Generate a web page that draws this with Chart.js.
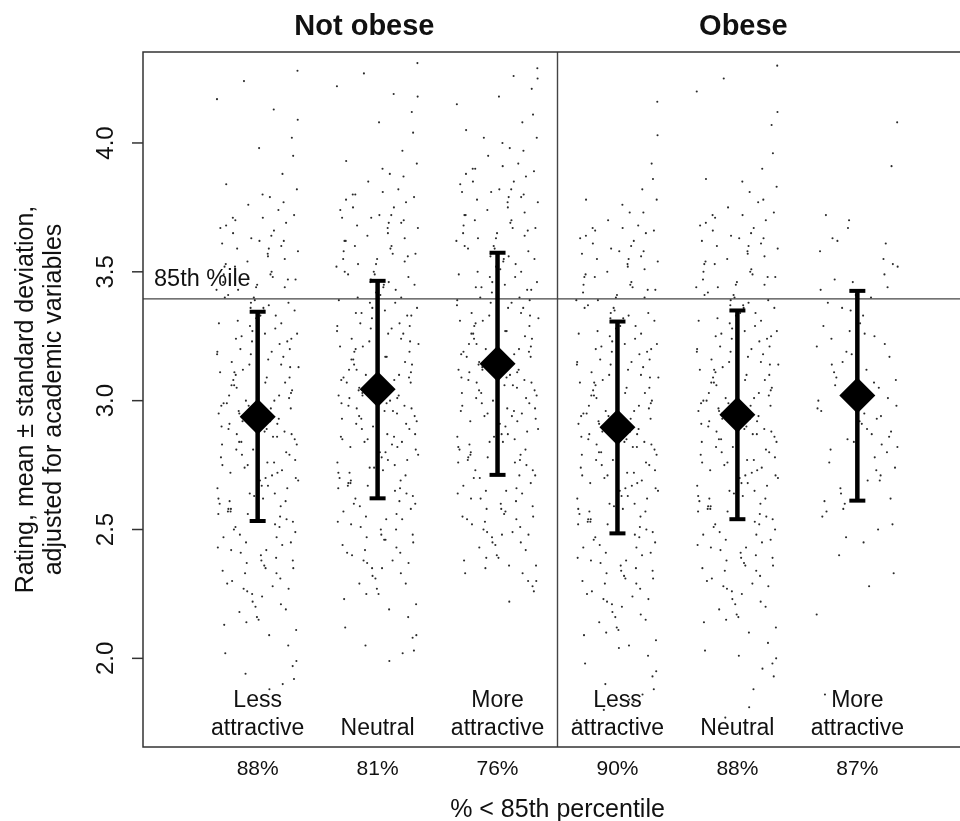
<!DOCTYPE html>
<html>
<head>
<meta charset="utf-8">
<script src="https://cdn.jsdelivr.net/npm/chart.js@4/dist/chart.umd.min.js"></script>
<style>
  html, body { margin: 0; padding: 0; background: #fff; overflow: hidden; }
  canvas { display: block; }
</style>
</head>
<body>
<canvas id="grafico" width="990" height="821"></canvas>
<script>
// Grupos: 3 por panel (No obeso / Obeso)
const grupos = ['Less attractive', 'Neutral', 'More attractive', 'Less attractive', 'Neutral', 'More attractive'];
const etiquetasGrupo = [['Less', 'attractive'], ['', 'Neutral'], ['More', 'attractive'],
                        ['Less', 'attractive'], ['', 'Neutral'], ['More', 'attractive']];
const porcentajes = ['88%', '81%', '76%', '90%', '88%', '87%'];
const paneles = ['Not obese', 'Obese'];

// media y ± desviación estándar
const medias = [2.938, 3.044, 3.143, 2.897, 2.945, 3.020];
const limInf = [2.533, 2.621, 2.712, 2.485, 2.540, 2.612];
const limSup = [3.345, 3.465, 3.574, 3.307, 3.350, 3.426];

const percentil85 = 3.395;
const ticksY = [2.0, 2.5, 3.0, 3.5, 4.0];

// desplazamiento horizontal de los puntos (jitter) compartido por los grupos
const jitter = [
  -0.123, 0.277, -0.311, 0.058, 0.194, -0.246, 0.332, -0.029, -0.175, 0.110,
  0.226, -0.292, 0.081, -0.064, 0.303, -0.207, 0.145, -0.338, 0.019, 0.252,
  -0.094, 0.179, -0.262, 0.326, -0.141, 0.048, -0.223, 0.285, -0.047, 0.120,
  -0.325, 0.218, -0.117, 0.076, 0.314, -0.189, 0.162, -0.270, 0.023, 0.247,
  -0.078, 0.293, -0.216, 0.104, -0.339, 0.187, -0.013, 0.265, -0.152, 0.061,
  0.336, -0.234, 0.139, -0.105, 0.237, -0.301, 0.098, -0.056, 0.203, -0.194,
  0.158, -0.283, 0.037, 0.296, -0.136, 0.268, -0.082, 0.114, -0.257, 0.321,
  -0.166, 0.004, 0.229, -0.332, 0.173, -0.038, 0.281, -0.213, 0.086, -0.127,
  0.255, -0.274, 0.143, -0.069, 0.334, -0.185, 0.052, -0.306, 0.197, -0.091,
  0.278, -0.243, 0.126, -0.018, 0.214, -0.317, 0.102, -0.158, 0.292, -0.044,
  0.165, -0.266, 0.072, -0.203, 0.309, -0.114, 0.241, -0.343, 0.034, 0.183,
  -0.087, 0.136, -0.235, 0.341, -0.148, 0.093, -0.294, 0.207, -0.006, 0.262,
  -0.171, 0.045, -0.323, 0.154, -0.075, 0.304, -0.226, 0.117, -0.101, 0.238,
  -0.287, 0.066, -0.196, 0.318, -0.053, 0.176, -0.254, 0.012, 0.283, -0.134,
  0.205, -0.057, 0.313, -0.276, 0.096, -0.153, 0.257, -0.327, 0.043, 0.189,
  -0.218, 0.128, -0.004, 0.294, -0.181, 0.066, -0.296, 0.235, -0.098, 0.151,
  -0.244, 0.327, -0.126, 0.027, 0.196, -0.335, 0.107, -0.046, 0.266, -0.178,
  0.084, -0.285, 0.147, -0.109, 0.323, -0.032, 0.224, -0.205, 0.055, -0.313,
  0.192, -0.144, 0.276, -0.085, 0.125, -0.238, 0.338, -0.163, 0.008, 0.216,
  -0.297, 0.088, -0.198, 0.308, -0.066, 0.164, -0.263, 0.031, 0.247, -0.131,
  0.134, -0.328, 0.064, -0.174, 0.316, -0.042, 0.197, -0.227, 0.093, -0.097,
  0.271, -0.303, 0.157, -0.024, 0.233, -0.186, 0.075, -0.279, 0.329, -0.083,
  0.116, -0.221, 0.287, -0.154, 0.015, 0.182, -0.336, 0.086, -0.059, 0.258,
  -0.119, 0.226, -0.248, 0.041, 0.297, -0.183, 0.137, -0.012, 0.209, -0.284
];

// valores individuales (nube de puntos) por grupo
const puntosG1 = [
  3.12, 2.45, 3.67, 2.88, 2.21, 3.41, 4.28, 2.63, 3.05, 2.97,
  3.55, 2.34, 2.76, 3.29, 1.92, 3.71, 2.52, 3.18, 2.69, 3.47,
  2.14, 3.02, 3.84, 2.83, 2.41, 3.36, 2.58, 4.02, 3.23, 2.71,
  2.95, 3.62, 2.27, 3.09, 2.49, 3.52, 2.86, 2.02, 3.33, 2.66,
  3.76, 2.38, 3.15, 2.92, 4.17, 2.55, 3.44, 2.79, 2.18, 3.26,
  3.58, 2.61, 3.00, 2.33, 3.69, 2.90, 1.88, 3.38, 2.73, 3.11,
  2.47, 3.49, 2.24, 3.95, 2.84, 3.20, 2.56, 3.64, 2.99, 2.11,
  3.31, 2.68, 3.07, 2.43, 3.74, 2.81, 3.24, 2.30, 3.56, 2.94,
  2.05, 3.40, 2.64, 3.14, 4.09, 2.51, 3.35, 2.78, 3.60, 2.37,
  3.03, 2.89, 3.48, 2.20, 3.17, 2.60, 3.79, 2.96, 1.97, 3.27,
  2.72, 3.53, 2.42, 3.08, 2.85, 4.24, 2.54, 3.43, 2.67, 3.22,
  2.26, 3.66, 2.91, 3.13, 2.48, 3.37, 2.75, 3.88, 2.16, 3.01,
  3.59, 2.62, 3.30, 2.39, 2.98, 3.72, 2.57, 3.19, 1.94, 2.80,
  3.46, 2.35, 3.06, 2.70, 3.63, 2.93, 2.29, 3.98, 2.87, 3.25,
  2.44, 3.18, 2.77, 3.52, 2.09, 2.95, 3.38, 2.62, 3.71, 2.31,
  3.06, 2.86, 3.45, 2.53, 3.24, 2.70, 3.61, 2.19, 3.00, 3.33,
  2.58, 3.82, 2.92, 2.40, 3.14, 2.66, 3.49, 2.25, 3.09, 2.81,
  3.57, 2.47, 3.28, 2.74, 1.99, 3.40, 2.88, 3.65, 2.36, 3.11,
  2.59, 3.20, 2.97, 3.54, 2.28, 3.02, 2.69, 3.43, 2.15, 3.77,
  2.83, 3.16, 2.50, 3.35, 2.64, 2.91, 3.68, 2.38, 3.23, 2.79,
  4.13, 2.56, 3.07, 2.87, 3.47, 2.22, 3.30, 2.72, 3.59, 2.45,
  3.13, 2.98, 2.33, 3.39, 2.61, 3.70, 2.89, 2.13, 3.26, 2.75,
  3.50, 2.42, 3.04, 2.84, 3.62, 2.51, 3.19, 2.67, 3.36, 2.27,
  2.94, 3.44, 2.57, 3.80, 2.35, 3.10, 2.76, 3.32, 1.90, 2.99
];
const puntosG2 = [
  3.21, 2.58, 3.74, 2.96, 2.33, 3.49, 4.31, 2.74, 3.12, 3.05,
  3.63, 2.44, 2.87, 3.38, 2.03, 3.80, 2.65, 3.27, 2.80, 3.56,
  2.25, 3.10, 3.93, 2.92, 2.51, 3.44, 2.69, 4.12, 3.32, 2.83,
  3.02, 3.70, 2.38, 3.17, 2.60, 3.60, 2.95, 2.12, 3.41, 2.77,
  3.85, 2.48, 3.24, 3.00, 4.22, 2.66, 3.53, 2.89, 2.29, 3.35,
  3.67, 2.72, 3.08, 2.42, 3.77, 2.99, 1.99, 3.47, 2.84, 3.19,
  2.56, 3.58, 2.35, 4.04, 2.93, 3.29, 2.67, 3.72, 3.07, 2.21,
  3.40, 2.79, 3.15, 2.53, 3.82, 2.90, 3.33, 2.40, 3.65, 3.03,
  2.16, 3.50, 2.75, 3.23, 4.18, 2.62, 3.45, 2.86, 3.69, 2.47,
  3.11, 2.98, 3.57, 2.31, 3.26, 2.70, 3.88, 3.04, 2.08, 3.36,
  2.82, 3.62, 2.54, 3.16, 2.94, 4.27, 2.64, 3.52, 2.78, 3.30,
  2.37, 3.75, 3.01, 3.22, 2.59, 3.46, 2.85, 3.97, 2.27, 3.09,
  3.68, 2.73, 3.39, 2.50, 3.06, 3.79, 2.68, 3.28, 2.05, 2.91,
  3.55, 2.46, 3.14, 2.81, 3.71, 3.02, 2.41, 4.08, 2.97, 3.34,
  2.54, 3.28, 2.87, 3.62, 2.19, 3.05, 3.48, 2.72, 3.81, 2.41,
  3.16, 2.96, 3.55, 2.63, 3.34, 2.80, 3.71, 2.29, 3.10, 3.43,
  2.68, 3.92, 3.02, 2.50, 3.24, 2.76, 3.59, 2.35, 3.19, 2.91,
  3.67, 2.57, 3.38, 2.84, 2.09, 3.50, 2.98, 3.75, 2.46, 3.21,
  2.69, 3.30, 3.07, 3.64, 2.38, 3.12, 2.79, 3.53, 2.25, 3.87,
  2.93, 3.26, 2.60, 3.45, 2.74, 3.01, 3.78, 2.48, 3.33, 2.89,
  4.19, 2.66, 3.17, 2.97, 3.57, 2.32, 3.40, 2.82, 3.69, 2.55,
  3.23, 3.08, 2.43, 3.49, 2.71, 3.80, 2.99, 2.23, 3.36, 2.85,
  3.60, 2.52, 3.14, 2.94, 3.72, 2.61, 3.29, 2.77, 3.46, 2.37,
  3.04, 3.54, 2.67, 3.90, 2.45, 3.20, 2.86, 3.42, 2.02, 3.09
];
const puntosG3 = [
  3.31, 2.68, 3.84, 3.06, 2.45, 3.59, 4.29, 2.86, 3.22, 3.15,
  3.73, 2.55, 2.97, 3.48, 2.26, 3.90, 2.76, 3.37, 2.91, 3.66,
  2.39, 3.20, 4.05, 3.02, 2.62, 3.54, 2.80, 4.21, 3.42, 2.94,
  3.12, 3.80, 2.50, 3.27, 2.71, 3.70, 3.05, 2.33, 3.51, 2.88,
  3.95, 2.59, 3.34, 3.10, 4.15, 2.77, 3.63, 2.99, 2.43, 3.45,
  3.77, 2.83, 3.18, 2.53, 3.87, 3.09, 2.22, 3.57, 2.95, 3.29,
  2.66, 3.68, 2.48, 4.11, 3.03, 3.39, 2.78, 3.82, 3.17, 2.36,
  3.50, 2.89, 3.25, 2.64, 3.92, 3.00, 3.43, 2.52, 3.75, 3.13,
  2.30, 3.60, 2.85, 3.33, 4.25, 2.73, 3.55, 2.96, 3.79, 2.58,
  3.21, 3.08, 3.67, 2.44, 3.36, 2.81, 3.98, 3.14, 2.28, 3.46,
  2.92, 3.72, 2.65, 3.26, 3.04, 4.02, 2.75, 3.62, 2.87, 3.40,
  2.49, 3.85, 3.11, 3.32, 2.70, 3.56, 2.98, 4.08, 2.40, 3.19,
  3.78, 2.84, 3.49, 2.61, 3.16, 3.89, 2.79, 3.38, 2.35, 3.01,
  3.65, 2.57, 3.24, 2.93, 3.81, 3.12, 2.54, 4.18, 3.07, 3.44,
  2.64, 3.38, 2.97, 3.72, 2.36, 3.15, 3.58, 2.82, 3.91, 2.51,
  3.26, 3.06, 3.65, 2.73, 3.44, 2.90, 3.81, 2.42, 3.20, 3.53,
  2.78, 4.02, 3.12, 2.60, 3.34, 2.86, 3.69, 2.47, 3.29, 3.01,
  3.77, 2.67, 3.48, 2.94, 2.30, 3.60, 3.08, 3.85, 2.56, 3.31,
  2.79, 3.40, 3.17, 3.74, 2.49, 3.22, 2.89, 3.63, 2.39, 3.97,
  3.03, 3.36, 2.70, 3.55, 2.84, 3.11, 3.88, 2.58, 3.43, 2.99,
  4.26, 2.76, 3.27, 3.07, 3.67, 2.45, 3.50, 2.92, 3.79, 2.65,
  3.33, 3.18, 2.54, 3.59, 2.81, 3.90, 3.09, 2.38, 3.46, 2.95,
  3.70, 2.62, 3.24, 3.04, 3.82, 2.71, 3.39, 2.87, 3.56, 2.48,
  3.14, 3.64, 2.77, 4.00, 2.55, 3.30, 2.96, 3.52, 2.33, 3.19
];
const puntosG4 = [
  3.08, 2.41, 3.63, 2.84, 2.17, 3.37, 4.16, 2.59, 3.01, 2.93,
  3.51, 2.30, 2.72, 3.25, 1.88, 3.67, 2.48, 3.14, 2.65, 3.43,
  2.10, 2.98, 3.78, 2.79, 2.37, 3.32, 2.54, 3.92, 3.19, 2.67,
  2.91, 3.58, 2.23, 3.05, 2.45, 3.48, 2.82, 1.98, 3.29, 2.62,
  3.70, 2.34, 3.11, 2.88, 1.76, 2.51, 3.40, 2.75, 2.14, 3.22,
  3.54, 2.57, 2.96, 2.29, 3.65, 2.86, 1.84, 3.34, 2.69, 3.07,
  2.43, 3.45, 2.20, 3.86, 2.80, 3.16, 2.52, 3.60, 2.95, 2.07,
  3.27, 2.64, 3.03, 2.39, 3.68, 2.77, 3.20, 2.26, 3.52, 2.90,
  2.01, 3.36, 2.60, 3.10, 4.03, 2.47, 3.31, 2.74, 3.56, 2.33,
  2.99, 2.85, 3.44, 2.16, 3.13, 2.56, 3.73, 2.92, 1.93, 3.23,
  2.68, 3.49, 2.38, 3.04, 2.81, 1.80, 2.50, 3.39, 2.63, 3.18,
  2.22, 3.62, 2.87, 3.09, 2.44, 3.33, 2.71, 3.82, 2.12, 2.97,
  3.55, 2.58, 3.26, 2.35, 2.94, 3.66, 2.53, 3.15, 1.90, 2.76,
  3.42, 2.31, 3.02, 2.66, 3.59, 2.89, 2.25, 2.04, 2.83, 3.21,
  2.40, 3.14, 2.73, 3.48, 2.05, 2.91, 3.34, 2.58, 3.67, 2.27,
  3.02, 2.82, 3.41, 2.49, 3.20, 2.66, 3.57, 2.15, 2.96, 3.29,
  2.54, 3.78, 2.88, 2.36, 3.10, 2.62, 3.45, 2.21, 3.05, 2.77,
  3.53, 2.43, 3.24, 2.70, 1.95, 3.36, 2.84, 3.61, 2.32, 3.07,
  2.55, 3.16, 2.93, 3.50, 2.24, 2.98, 2.65, 3.39, 2.11, 3.73,
  2.79, 3.12, 2.46, 3.31, 2.60, 2.87, 3.64, 2.34, 3.19, 2.75,
  1.83, 2.52, 3.03, 2.83, 3.43, 2.18, 3.26, 2.68, 3.55, 2.41,
  3.09, 2.94, 2.29, 3.35, 2.57, 3.66, 2.85, 2.09, 3.22, 2.71,
  3.46, 2.38, 3.00, 2.80, 3.58, 2.47, 3.15, 2.63, 3.32, 2.23,
  2.90, 3.40, 2.53, 3.76, 2.31, 3.06, 2.72, 3.28, 1.86, 2.95
];
const puntosG5 = [
  3.13, 2.46, 3.68, 2.89, 2.22, 3.42, 4.30, 2.64, 3.06, 2.98,
  3.56, 2.35, 2.77, 3.30, 1.93, 3.72, 2.53, 3.19, 2.70, 3.48,
  2.15, 3.03, 3.86, 2.84, 2.42, 3.37, 2.59, 4.07, 3.24, 2.72,
  2.96, 3.63, 2.28, 3.10, 2.50, 3.53, 2.87, 2.03, 3.34, 2.67,
  3.75, 2.39, 3.16, 2.93, 4.20, 2.56, 3.45, 2.80, 2.19, 3.27,
  3.59, 2.62, 3.01, 2.34, 3.70, 2.91, 1.81, 3.39, 2.74, 3.12,
  2.48, 3.50, 2.25, 3.96, 2.85, 3.21, 2.57, 3.65, 3.00, 2.12,
  3.32, 2.69, 3.08, 2.44, 3.77, 2.82, 3.25, 2.31, 3.57, 2.95,
  2.06, 3.41, 2.65, 3.15, 4.12, 2.52, 3.36, 2.79, 3.61, 2.38,
  3.04, 2.90, 3.49, 2.21, 3.18, 2.61, 3.81, 2.97, 1.98, 3.28,
  2.73, 3.54, 2.43, 3.09, 2.86, 4.25, 2.55, 3.44, 2.68, 3.23,
  2.27, 3.67, 2.92, 3.14, 2.49, 3.38, 2.76, 3.90, 2.17, 3.02,
  3.60, 2.63, 3.31, 2.40, 2.99, 3.73, 2.58, 3.20, 1.77, 2.81,
  3.47, 2.36, 3.07, 2.71, 3.64, 2.94, 2.30, 2.01, 2.88, 3.26,
  2.45, 3.19, 2.78, 3.53, 2.10, 2.96, 3.39, 2.63, 3.72, 2.32,
  3.07, 2.87, 3.46, 2.54, 3.25, 2.71, 3.62, 2.20, 3.01, 3.34,
  2.59, 3.83, 2.93, 2.41, 3.15, 2.67, 3.50, 2.26, 3.10, 2.82,
  3.58, 2.48, 3.29, 2.75, 2.00, 3.41, 2.89, 3.66, 2.37, 3.12,
  2.60, 3.21, 2.98, 3.55, 2.29, 3.03, 2.70, 3.44, 2.16, 3.78,
  2.84, 3.17, 2.51, 3.36, 2.65, 2.92, 3.69, 2.39, 3.24, 2.80,
  1.88, 2.57, 3.08, 2.88, 3.48, 2.23, 3.31, 2.73, 3.60, 2.46,
  3.14, 2.99, 2.34, 3.40, 2.62, 3.71, 2.90, 2.14, 3.27, 2.76,
  3.51, 2.43, 3.05, 2.85, 3.63, 2.52, 3.20, 2.68, 3.37, 2.28,
  2.95, 3.45, 2.58, 3.85, 2.36, 3.11, 2.77, 3.33, 1.96, 3.00
];
const puntosG6 = [
  3.15, 2.62, 3.58, 2.95, 2.71, 3.38, 4.08, 2.84, 3.09, 3.02,
  3.49, 2.55, 2.89, 3.27, 2.33, 3.63, 2.78, 3.21, 2.92, 3.44,
  2.47, 3.05, 3.72, 2.98, 2.66, 3.33, 2.81, 3.91, 3.18, 2.87,
  3.00, 3.55, 2.58, 3.12, 2.74, 3.47, 2.93, 1.86, 3.30, 2.80,
  3.67, 2.52, 3.24, 3.03, 2.17, 2.69, 3.41, 2.86, 2.40, 3.26,
  3.52, 2.76, 3.07, 2.60, 3.61, 2.96, 2.28, 3.35, 2.83, 3.11,
  2.73, 3.29, 2.91, 3.53, 2.64, 3.17, 2.85, 3.40, 2.57, 3.08,
  3.62, 2.79, 3.22, 2.97, 2.50, 3.46, 2.88, 3.14, 2.69, 3.36,
  3.01, 2.61, 3.25, 3.70, 2.82, 3.06, 2.45, 3.43, 2.94, 3.19
];
const nubes = [puntosG1, puntosG2, puntosG3, puntosG4, puntosG5, puntosG6];

// rango de los ejes (como en R: xlim 0.3-6.7 y ylim con 4% extra)
const X_MIN = 0.044, X_MAX = 6.956;
const Y_MIN = 1.656, Y_MAX = 4.353;

const FUENTE = "'Liberation Sans', Arial, Helvetica, sans-serif";
const TINTA = '#111';

// --- datasets ---
const dsMedias = {
  data: medias.map((m, i) => ({ x: i + 1, y: m })),
  pointStyle: 'rectRot',
  pointRadius: 18,
  pointBackgroundColor: '#000',
  pointBorderWidth: 0,
  showLine: false
};

const datosBarras = [];
medias.forEach((m, i) => {
  datosBarras.push({ x: i + 1, y: limInf[i] });
  datosBarras.push({ x: i + 1, y: limSup[i] });
  datosBarras.push({ x: i + 1, y: null });
});
const dsBarras = {
  data: datosBarras,
  showLine: true,
  spanGaps: false,
  borderColor: '#000',
  borderWidth: 4.5,
  pointStyle: 'line',
  pointRadius: 8,
  pointBorderWidth: 4,
  pointBorderColor: '#000'
};

const dsPercentil = {
  data: [{ x: X_MIN, y: percentil85 }, { x: X_MAX, y: percentil85 }],
  showLine: true, borderColor: '#444', borderWidth: 1.4, pointRadius: 0
};
const dsDivisor = {
  data: [{ x: 3.5, y: Y_MIN }, { x: 3.5, y: Y_MAX }],
  showLine: true, borderColor: '#444', borderWidth: 1.4, pointRadius: 0
};

const dsNubes = nubes.map((ys, g) => ({
  data: ys.map((v, k) => ({ x: g + 1 + jitter[k], y: v })),
  showLine: false,
  pointRadius: 1.05,
  pointBackgroundColor: '#2a2a2a',
  pointBorderWidth: 0
}));

// --- textos, marco y eje Y dibujados encima ---
const anotaciones = {
  id: 'anotaciones',
  afterDatasetsDraw(chart) {
    const { ctx, chartArea: a, scales: { x, y } } = chart;
    ctx.save();

    // marco
    ctx.strokeStyle = '#333';
    ctx.lineWidth = 1.5;
    ctx.strokeRect(a.left, a.top, a.right - a.left, a.bottom - a.top);

    ctx.fillStyle = TINTA;

    // ticks y etiquetas del eje Y (rotadas)
    ctx.font = `24px ${FUENTE}`;
    ctx.textAlign = 'center';
    ctx.textBaseline = 'alphabetic';
    ticksY.forEach(t => {
      const py = y.getPixelForValue(t);
      ctx.beginPath();
      ctx.moveTo(a.left - 11, py);
      ctx.lineTo(a.left, py);
      ctx.stroke();
      ctx.save();
      ctx.translate(113, py);
      ctx.rotate(-Math.PI / 2);
      ctx.fillText(t.toFixed(1), 0, 0);
      ctx.restore();
    });

    // título del eje Y (dos líneas)
    const cy = (a.top + a.bottom) / 2;
    ctx.font = `25px ${FUENTE}`;
    ctx.save();
    ctx.translate(33, cy);
    ctx.rotate(-Math.PI / 2);
    ctx.fillText('Rating, mean \u00b1 standard deviation,', 0, 0);
    ctx.restore();
    ctx.save();
    ctx.translate(61, cy);
    ctx.rotate(-Math.PI / 2);
    ctx.fillText('adjusted for academic variables', 0, 0);
    ctx.restore();

    // títulos de panel
    ctx.font = `bold 29px ${FUENTE}`;
    ctx.fillText(paneles[0], x.getPixelForValue(1.89), 35);
    ctx.fillText(paneles[1], x.getPixelForValue(5.05), 35);

    // etiqueta del percentil 85
    ctx.font = `23.5px ${FUENTE}`;
    ctx.textAlign = 'left';
    ctx.fillText('85th %ile', a.left + 11, y.getPixelForValue(percentil85) - 13);

    // etiquetas de grupo dentro del gráfico
    ctx.textAlign = 'center';
    ctx.font = `23px ${FUENTE}`;
    etiquetasGrupo.forEach((lin, i) => {
      const px = x.getPixelForValue(i + 1);
      if (lin[0]) ctx.fillText(lin[0], px, a.bottom - 40);
      ctx.fillText(lin[1], px, a.bottom - 12);
    });

    // porcentajes bajo el eje
    ctx.font = `21px ${FUENTE}`;
    porcentajes.forEach((p, i) => {
      ctx.fillText(p, x.getPixelForValue(i + 1), a.bottom + 28);
    });

    // título del eje X
    ctx.font = `25px ${FUENTE}`;
    ctx.fillText('% < 85th percentile', (a.left + a.right) / 2, a.bottom + 70);

    ctx.restore();
  }
};

new Chart(document.getElementById('grafico'), {
  type: 'scatter',
  data: { datasets: [dsMedias, dsBarras, dsPercentil, dsDivisor, ...dsNubes] },
  options: {
    responsive: false,
    animation: false,
    devicePixelRatio: 1,
    layout: { padding: { left: 143, top: 52, right: 15, bottom: 74 } },
    plugins: { legend: { display: false }, tooltip: { enabled: false } },
    scales: {
      x: { type: 'linear', min: X_MIN, max: X_MAX, display: false },
      y: { type: 'linear', min: Y_MIN, max: Y_MAX, display: false }
    }
  },
  plugins: [anotaciones]
});
</script>
</body>
</html>
